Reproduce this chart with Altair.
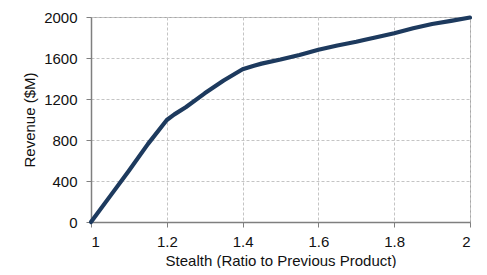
import altair as alt
import pandas as pd

stealth = [1.00, 1.05, 1.10, 1.15, 1.20, 1.22, 1.25, 1.30, 1.35, 1.40, 1.43, 1.45, 1.50, 1.55,
           1.60, 1.65, 1.70, 1.72, 1.75, 1.80, 1.85, 1.90, 1.95, 2.00]
revenue = [0, 250, 500, 760, 995, 1050, 1120, 1255, 1380, 1490, 1525, 1545, 1585, 1630,
           1680, 1722, 1758, 1775, 1800, 1842, 1890, 1932, 1962, 1995]

df = pd.DataFrame({"x": stealth, "y": revenue})

font = "Liberation Sans"

chart = alt.Chart(df).mark_line(color="#1d3a5e", strokeWidth=4.2, strokeCap="round", strokeJoin="round").encode(
    x=alt.X("x:Q", scale=alt.Scale(domain=[1, 2], nice=False, zero=False),
            axis=alt.Axis(title="Stealth (Ratio to Previous Product)", values=[1, 1.2, 1.4, 1.6, 1.8, 2],
                          labelExpr="datum.value == 1 || datum.value == 2 ? format(datum.value, 'd') : format(datum.value, '.1f')",
                          tickSize=5, labelPadding=7, titlePadding=4)),
    y=alt.Y("y:Q", scale=alt.Scale(domain=[0, 2000], nice=False),
            axis=alt.Axis(title="Revenue ($M)", values=[0, 400, 800, 1200, 1600, 2000], format="d",
                          tickSize=5, labelPadding=9, titlePadding=6)),
).properties(
    width=379, height=205,
    autosize=alt.AutoSizeParams(type="none"),
    padding={"left": 83, "top": 9, "right": 8, "bottom": 46},
).configure_view(
    stroke="#a6a6a6", strokeWidth=1
).configure_axis(
    labelFont=font, titleFont=font, labelFontSize=15, titleFontSize=15,
    labelColor="#111111", titleColor="#111111", titleFontWeight="normal",
    domainColor="#7f7f7f", domainWidth=1.5, tickColor="#7f7f7f", tickWidth=1,
    gridColor="#c4c4c4", gridDash=[3, 2], gridWidth=1,
)

chart.save("out.html", embed_options={"renderer": "svg", "actions": False})
